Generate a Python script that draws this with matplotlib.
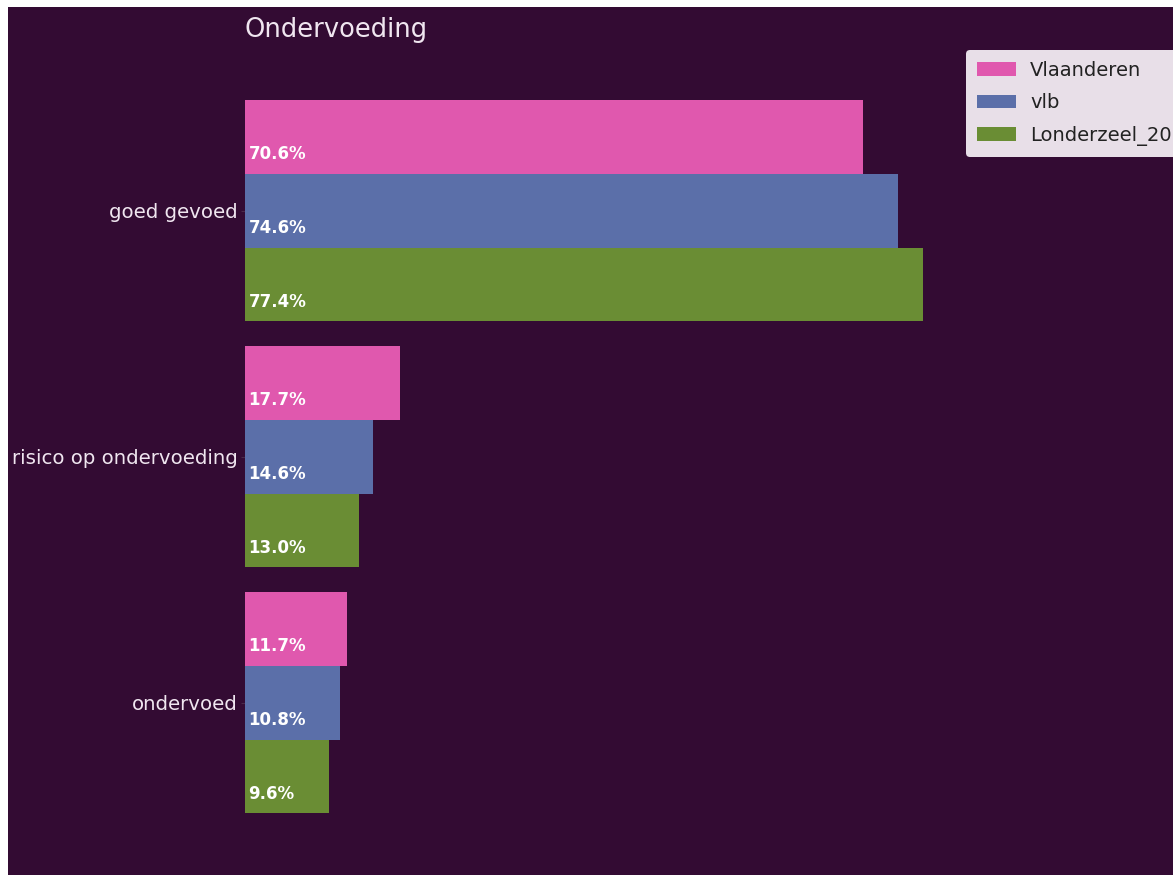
import numpy as np
import matplotlib
matplotlib.use('Agg')
import matplotlib.pyplot as plt
from matplotlib.patches import Rectangle

# data
categories = ['goed gevoed', 'risico op ondervoeding', 'ondervoed']
series = ['Vlaanderen', 'vlb', 'Londerzeel_20']
vlaanderen = [70.6, 17.7, 11.7]
vlb = [74.6, 14.6, 10.8]
londerzeel = [77.4, 13.0, 9.6]
values = [vlaanderen, vlb, londerzeel]
colors = ['#e058ae', '#5b6fa9', '#6a8d34']
bg = '#330b33'

W, H = 1173, 875
fig = plt.figure(figsize=(W / 100, H / 100), dpi=100, facecolor='white')
# purple panel of the screenshot (white strip at top and left)
fig.patches.append(Rectangle((8 / W, 0), 1 - 8 / W, 1 - 7 / H, transform=fig.transFigure,
                             facecolor=bg, edgecolor='none', zorder=-5))

ax = fig.add_axes([245 / W, 7 / H, (W - 245) / W, 1 - 45 / H - 7 / H])
ax.patch.set_alpha(0)

ypos = np.arange(len(categories))
h = 0.3
for i, (name, vals, col) in enumerate(zip(series, values, colors)):
    yy = ypos + (i - 1) * h
    ax.barh(yy, vals, height=h, color=col, label=name, zorder=2)
    for y, v in zip(yy, vals):
        ax.text(0.4, y + 0.07, f'{v:.1f}%', color='white', fontsize=12,
                fontweight='bold', va='center', ha='left', zorder=3)

ax.set_xlim(0, (W - 245) / 8.76)
ax.set_ylim(2.672, -0.6736)
ax.set_yticks(ypos)
ax.set_yticklabels(categories, color='#f0e6f0', fontsize=14.2)
ax.tick_params(axis='y', length=3, color='#4a2a4a', pad=2)
ax.set_xticks([])
for s in ax.spines.values():
    s.set_visible(False)

ax.set_title('Ondervoeding', loc='left', color='#f0e6f0', fontsize=18.5, pad=6)

leg = ax.legend(loc='upper left', bbox_to_anchor=(966 / W, 1 - 50 / H),
                bbox_transform=fig.transFigure, fontsize=14, facecolor='#e8dfe8',
                edgecolor='none', framealpha=1, handlelength=2.0, borderpad=0.55,
                handletextpad=0.75, labelspacing=0.7, borderaxespad=0)
for t in leg.get_texts():
    t.set_color('#222222')

fig.savefig('out.png', dpi=100, facecolor=fig.get_facecolor())
